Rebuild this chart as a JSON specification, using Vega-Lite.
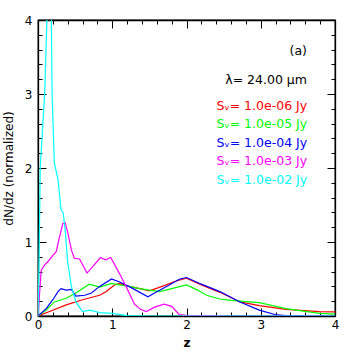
{
 "$schema": "https://vega.github.io/schema/vega-lite/v6.json",
 "width": 297, "height": 296,
 "autosize": "none",
 "padding": {"left": 38, "top": 20, "right": 19, "bottom": 38},
 "background": "white",
 "config": {"view": {"stroke": "black", "strokeWidth": 1.3}, "font": "DejaVu Sans"},
 "data": {"values": [
  {"s":"Sᵥ= 1.0e-06 Jy","z":0,"y":0},{"s":"Sᵥ= 1.0e-06 Jy","z":0.155,"y":0.06},{"s":"Sᵥ= 1.0e-06 Jy","z":0.38,"y":0.15},{"s":"Sᵥ= 1.0e-06 Jy","z":0.6,"y":0.22},{"s":"Sᵥ= 1.0e-06 Jy","z":0.83,"y":0.28},{"s":"Sᵥ= 1.0e-06 Jy","z":0.92,"y":0.33},{"s":"Sᵥ= 1.0e-06 Jy","z":1.03,"y":0.42},{"s":"Sᵥ= 1.0e-06 Jy","z":1.1,"y":0.44},{"s":"Sᵥ= 1.0e-06 Jy","z":1.23,"y":0.40},{"s":"Sᵥ= 1.0e-06 Jy","z":1.37,"y":0.37},{"s":"Sᵥ= 1.0e-06 Jy","z":1.5,"y":0.34},{"s":"Sᵥ= 1.0e-06 Jy","z":1.7,"y":0.41},{"s":"Sᵥ= 1.0e-06 Jy","z":1.85,"y":0.47},{"s":"Sᵥ= 1.0e-06 Jy","z":2.0,"y":0.51},{"s":"Sᵥ= 1.0e-06 Jy","z":2.2,"y":0.42},{"s":"Sᵥ= 1.0e-06 Jy","z":2.45,"y":0.32},{"s":"Sᵥ= 1.0e-06 Jy","z":2.72,"y":0.19},{"s":"Sᵥ= 1.0e-06 Jy","z":2.98,"y":0.14},{"s":"Sᵥ= 1.0e-06 Jy","z":3.34,"y":0.09},{"s":"Sᵥ= 1.0e-06 Jy","z":3.79,"y":0.058},{"s":"Sᵥ= 1.0e-06 Jy","z":4.0,"y":0.055},
  {"s":"Sᵥ= 1.0e-05 Jy","z":0,"y":0},{"s":"Sᵥ= 1.0e-05 Jy","z":0.11,"y":0.08},{"s":"Sᵥ= 1.0e-05 Jy","z":0.22,"y":0.19},{"s":"Sᵥ= 1.0e-05 Jy","z":0.38,"y":0.24},{"s":"Sᵥ= 1.0e-05 Jy","z":0.51,"y":0.31},{"s":"Sᵥ= 1.0e-05 Jy","z":0.69,"y":0.43},{"s":"Sᵥ= 1.0e-05 Jy","z":0.83,"y":0.39},{"s":"Sᵥ= 1.0e-05 Jy","z":0.99,"y":0.44},{"s":"Sᵥ= 1.0e-05 Jy","z":1.1,"y":0.42},{"s":"Sᵥ= 1.0e-05 Jy","z":1.23,"y":0.40},{"s":"Sᵥ= 1.0e-05 Jy","z":1.37,"y":0.37},{"s":"Sᵥ= 1.0e-05 Jy","z":1.5,"y":0.35},{"s":"Sᵥ= 1.0e-05 Jy","z":1.64,"y":0.33},{"s":"Sᵥ= 1.0e-05 Jy","z":1.8,"y":0.37},{"s":"Sᵥ= 1.0e-05 Jy","z":2.0,"y":0.42},{"s":"Sᵥ= 1.0e-05 Jy","z":2.15,"y":0.35},{"s":"Sᵥ= 1.0e-05 Jy","z":2.27,"y":0.28},{"s":"Sᵥ= 1.0e-05 Jy","z":2.45,"y":0.23},{"s":"Sᵥ= 1.0e-05 Jy","z":2.6,"y":0.21},{"s":"Sᵥ= 1.0e-05 Jy","z":2.72,"y":0.20},{"s":"Sᵥ= 1.0e-05 Jy","z":2.98,"y":0.18},{"s":"Sᵥ= 1.0e-05 Jy","z":3.34,"y":0.10},{"s":"Sᵥ= 1.0e-05 Jy","z":3.79,"y":0.036},{"s":"Sᵥ= 1.0e-05 Jy","z":4.0,"y":0.025},
  {"s":"Sᵥ= 1.0e-04 Jy","z":0,"y":0},{"s":"Sᵥ= 1.0e-04 Jy","z":0.11,"y":0.10},{"s":"Sᵥ= 1.0e-04 Jy","z":0.2,"y":0.22},{"s":"Sᵥ= 1.0e-04 Jy","z":0.27,"y":0.33},{"s":"Sᵥ= 1.0e-04 Jy","z":0.31,"y":0.37},{"s":"Sᵥ= 1.0e-04 Jy","z":0.38,"y":0.35},{"s":"Sᵥ= 1.0e-04 Jy","z":0.45,"y":0.36},{"s":"Sᵥ= 1.0e-04 Jy","z":0.51,"y":0.27},{"s":"Sᵥ= 1.0e-04 Jy","z":0.63,"y":0.28},{"s":"Sᵥ= 1.0e-04 Jy","z":0.72,"y":0.31},{"s":"Sᵥ= 1.0e-04 Jy","z":0.83,"y":0.40},{"s":"Sᵥ= 1.0e-04 Jy","z":0.99,"y":0.50},{"s":"Sᵥ= 1.0e-04 Jy","z":1.1,"y":0.46},{"s":"Sᵥ= 1.0e-04 Jy","z":1.28,"y":0.37},{"s":"Sᵥ= 1.0e-04 Jy","z":1.48,"y":0.26},{"s":"Sᵥ= 1.0e-04 Jy","z":1.57,"y":0.31},{"s":"Sᵥ= 1.0e-04 Jy","z":1.75,"y":0.41},{"s":"Sᵥ= 1.0e-04 Jy","z":1.91,"y":0.50},{"s":"Sᵥ= 1.0e-04 Jy","z":2.0,"y":0.52},{"s":"Sᵥ= 1.0e-04 Jy","z":2.2,"y":0.43},{"s":"Sᵥ= 1.0e-04 Jy","z":2.45,"y":0.33},{"s":"Sᵥ= 1.0e-04 Jy","z":2.72,"y":0.19},{"s":"Sᵥ= 1.0e-04 Jy","z":2.98,"y":0.08},{"s":"Sᵥ= 1.0e-04 Jy","z":3.19,"y":0.02},{"s":"Sᵥ= 1.0e-04 Jy","z":3.4,"y":0},{"s":"Sᵥ= 1.0e-04 Jy","z":4.0,"y":0},
  {"s":"Sᵥ= 1.0e-03 Jy","z":0,"y":0},{"s":"Sᵥ= 1.0e-03 Jy","z":0.043,"y":0.62},{"s":"Sᵥ= 1.0e-03 Jy","z":0.09,"y":0.69},{"s":"Sᵥ= 1.0e-03 Jy","z":0.13,"y":0.73},{"s":"Sᵥ= 1.0e-03 Jy","z":0.2,"y":0.82},{"s":"Sᵥ= 1.0e-03 Jy","z":0.245,"y":0.87},{"s":"Sᵥ= 1.0e-03 Jy","z":0.29,"y":1.07},{"s":"Sᵥ= 1.0e-03 Jy","z":0.334,"y":1.25},{"s":"Sᵥ= 1.0e-03 Jy","z":0.366,"y":1.26},{"s":"Sᵥ= 1.0e-03 Jy","z":0.40,"y":1.13},{"s":"Sᵥ= 1.0e-03 Jy","z":0.45,"y":0.89},{"s":"Sᵥ= 1.0e-03 Jy","z":0.49,"y":0.78},{"s":"Sᵥ= 1.0e-03 Jy","z":0.56,"y":0.77},{"s":"Sᵥ= 1.0e-03 Jy","z":0.66,"y":0.58},{"s":"Sᵥ= 1.0e-03 Jy","z":0.74,"y":0.67},{"s":"Sᵥ= 1.0e-03 Jy","z":0.84,"y":0.79},{"s":"Sᵥ= 1.0e-03 Jy","z":0.91,"y":0.76},{"s":"Sᵥ= 1.0e-03 Jy","z":0.98,"y":0.79},{"s":"Sᵥ= 1.0e-03 Jy","z":1.05,"y":0.66},{"s":"Sᵥ= 1.0e-03 Jy","z":1.12,"y":0.53},{"s":"Sᵥ= 1.0e-03 Jy","z":1.2,"y":0.37},{"s":"Sᵥ= 1.0e-03 Jy","z":1.3,"y":0.16},{"s":"Sᵥ= 1.0e-03 Jy","z":1.38,"y":0.09},{"s":"Sᵥ= 1.0e-03 Jy","z":1.46,"y":0.06},{"s":"Sᵥ= 1.0e-03 Jy","z":1.57,"y":0.12},{"s":"Sᵥ= 1.0e-03 Jy","z":1.70,"y":0.16},{"s":"Sᵥ= 1.0e-03 Jy","z":1.8,"y":0.13},{"s":"Sᵥ= 1.0e-03 Jy","z":1.9,"y":0.02},{"s":"Sᵥ= 1.0e-03 Jy","z":2.0,"y":0.01},{"s":"Sᵥ= 1.0e-03 Jy","z":2.3,"y":0.005},{"s":"Sᵥ= 1.0e-03 Jy","z":2.5,"y":0},{"s":"Sᵥ= 1.0e-03 Jy","z":4.0,"y":0},
  {"s":"Sᵥ= 1.0e-02 Jy","z":0,"y":0},{"s":"Sᵥ= 1.0e-02 Jy","z":0.01,"y":0.5},{"s":"Sᵥ= 1.0e-02 Jy","z":0.02,"y":1.2},{"s":"Sᵥ= 1.0e-02 Jy","z":0.03,"y":2.0},{"s":"Sᵥ= 1.0e-02 Jy","z":0.09,"y":3.0},{"s":"Sᵥ= 1.0e-02 Jy","z":0.12,"y":4.0},{"s":"Sᵥ= 1.0e-02 Jy","z":0.15,"y":4.3},{"s":"Sᵥ= 1.0e-02 Jy","z":0.18,"y":4.0},{"s":"Sᵥ= 1.0e-02 Jy","z":0.19,"y":3.0},{"s":"Sᵥ= 1.0e-02 Jy","z":0.22,"y":2.07},{"s":"Sᵥ= 1.0e-02 Jy","z":0.27,"y":1.84},{"s":"Sᵥ= 1.0e-02 Jy","z":0.31,"y":1.44},{"s":"Sᵥ= 1.0e-02 Jy","z":0.34,"y":1.39},{"s":"Sᵥ= 1.0e-02 Jy","z":0.37,"y":1.12},{"s":"Sᵥ= 1.0e-02 Jy","z":0.40,"y":0.72},{"s":"Sᵥ= 1.0e-02 Jy","z":0.45,"y":0.40},{"s":"Sᵥ= 1.0e-02 Jy","z":0.51,"y":0.19},{"s":"Sᵥ= 1.0e-02 Jy","z":0.6,"y":0.06},{"s":"Sᵥ= 1.0e-02 Jy","z":0.7,"y":0.08},{"s":"Sᵥ= 1.0e-02 Jy","z":0.83,"y":0.045},{"s":"Sᵥ= 1.0e-02 Jy","z":1.0,"y":0.035},{"s":"Sᵥ= 1.0e-02 Jy","z":1.2,"y":0.005},{"s":"Sᵥ= 1.0e-02 Jy","z":1.5,"y":0},{"s":"Sᵥ= 1.0e-02 Jy","z":4.0,"y":0}
 ]},
 "layer": [
  {
   "mark": {"type": "line", "clip": true, "strokeWidth": 1.2},
   "encoding": {
    "x": {"field": "z", "type": "quantitative",
      "scale": {"domain": [0, 4], "nice": false, "zero": false},
      "axis": {"orient": "bottom", "title": "z", "values": [0,0.2,0.4,0.6,0.8,1,1.2,1.4,1.6,1.8,2,2.2,2.4,2.6,2.8,3,3.2,3.4,3.6,3.8,4],
        "labelExpr": "abs(datum.value - round(datum.value)) < 0.001 ? format(datum.value, 'd') : ''",
        "labelOverlap": false, "labelFlush": false, "grid": false,
        "tickSize": {"condition": {"test": "abs(datum.value - round(datum.value)) < 0.001", "value": -8}, "value": -4},
        "tickColor": "black", "tickWidth": 1, "domainColor": "black", "domainWidth": 1.3,
        "labelFontSize": 12, "labelColor": "black", "labelPadding": 11,
        "titleFontSize": 12, "titleColor": "black", "titleFontWeight": "bold", "titlePadding": 3}},
    "y": {"field": "y", "type": "quantitative",
      "scale": {"domain": [0, 4], "nice": false, "zero": false},
      "axis": {"orient": "left", "title": "dN/dz (normalized)", "values": [0,0.2,0.4,0.6,0.8,1,1.2,1.4,1.6,1.8,2,2.2,2.4,2.6,2.8,3,3.2,3.4,3.6,3.8,4],
        "labelExpr": "abs(datum.value - round(datum.value)) < 0.001 ? format(datum.value, 'd') : ''",
        "labelOverlap": false, "labelFlush": false, "grid": false,
        "tickSize": {"condition": {"test": "abs(datum.value - round(datum.value)) < 0.001", "value": -8}, "value": -4},
        "tickColor": "black", "tickWidth": 1, "domainColor": "black", "domainWidth": 1.3,
        "labelFontSize": 12, "labelColor": "black", "labelPadding": 14,
        "titleFontSize": 12, "titleColor": "black", "titleFontWeight": "normal", "titlePadding": 9}},
    "color": {"field": "s", "type": "nominal",
      "scale": {"domain": ["Sᵥ= 1.0e-06 Jy","Sᵥ= 1.0e-05 Jy","Sᵥ= 1.0e-04 Jy","Sᵥ= 1.0e-03 Jy","Sᵥ= 1.0e-02 Jy"],
                "range": ["#ff0000","#00ff00","#0000ff","#ff00ff","#00ffff"]},
      "legend": {"orient": "none", "legendX": 166, "legendY": 25, "padding": 0,
        "title": ["(a)", "λ= 24.00 μm"], "titleAlign": "right", "titleAnchor": "end",
        "titleFontWeight": "normal", "titleFontSize": 12.5, "titleColor": "black", "titleLineHeight": 29, "titlePadding": 13,
        "labelFontSize": 12.5, "symbolSize": 0, "symbolStrokeWidth": 0, "symbolOpacity": 0, "labelOffset": 0, "rowPadding": 5.5,
        "encode": {"labels": {"update": {"fill": {"scale": "color", "field": "value"}}}}}}
   }
  },
  {
   "mark": {"type": "line", "opacity": 0},
   "encoding": {
    "detail": {"field": "s"},
    "x": {"field": "z", "type": "quantitative",
      "axis": {"orient": "top", "title": null, "labels": false, "values": [0,0.2,0.4,0.6,0.8,1,1.2,1.4,1.6,1.8,2,2.2,2.4,2.6,2.8,3,3.2,3.4,3.6,3.8,4],
        "grid": false, "tickSize": {"condition": {"test": "abs(datum.value - round(datum.value)) < 0.001", "value": -8}, "value": -4},
        "tickColor": "black", "tickWidth": 1, "domainColor": "black", "domainWidth": 1.3}},
    "y": {"field": "y", "type": "quantitative",
      "axis": {"orient": "right", "title": null, "labels": false, "values": [0,0.2,0.4,0.6,0.8,1,1.2,1.4,1.6,1.8,2,2.2,2.4,2.6,2.8,3,3.2,3.4,3.6,3.8,4],
        "grid": false, "tickSize": {"condition": {"test": "abs(datum.value - round(datum.value)) < 0.001", "value": -8}, "value": -4},
        "tickColor": "black", "tickWidth": 1, "domainColor": "black", "domainWidth": 1.3}}
   }
  }
 ],
 "resolve": {"axis": {"x": "independent", "y": "independent"}}
}
